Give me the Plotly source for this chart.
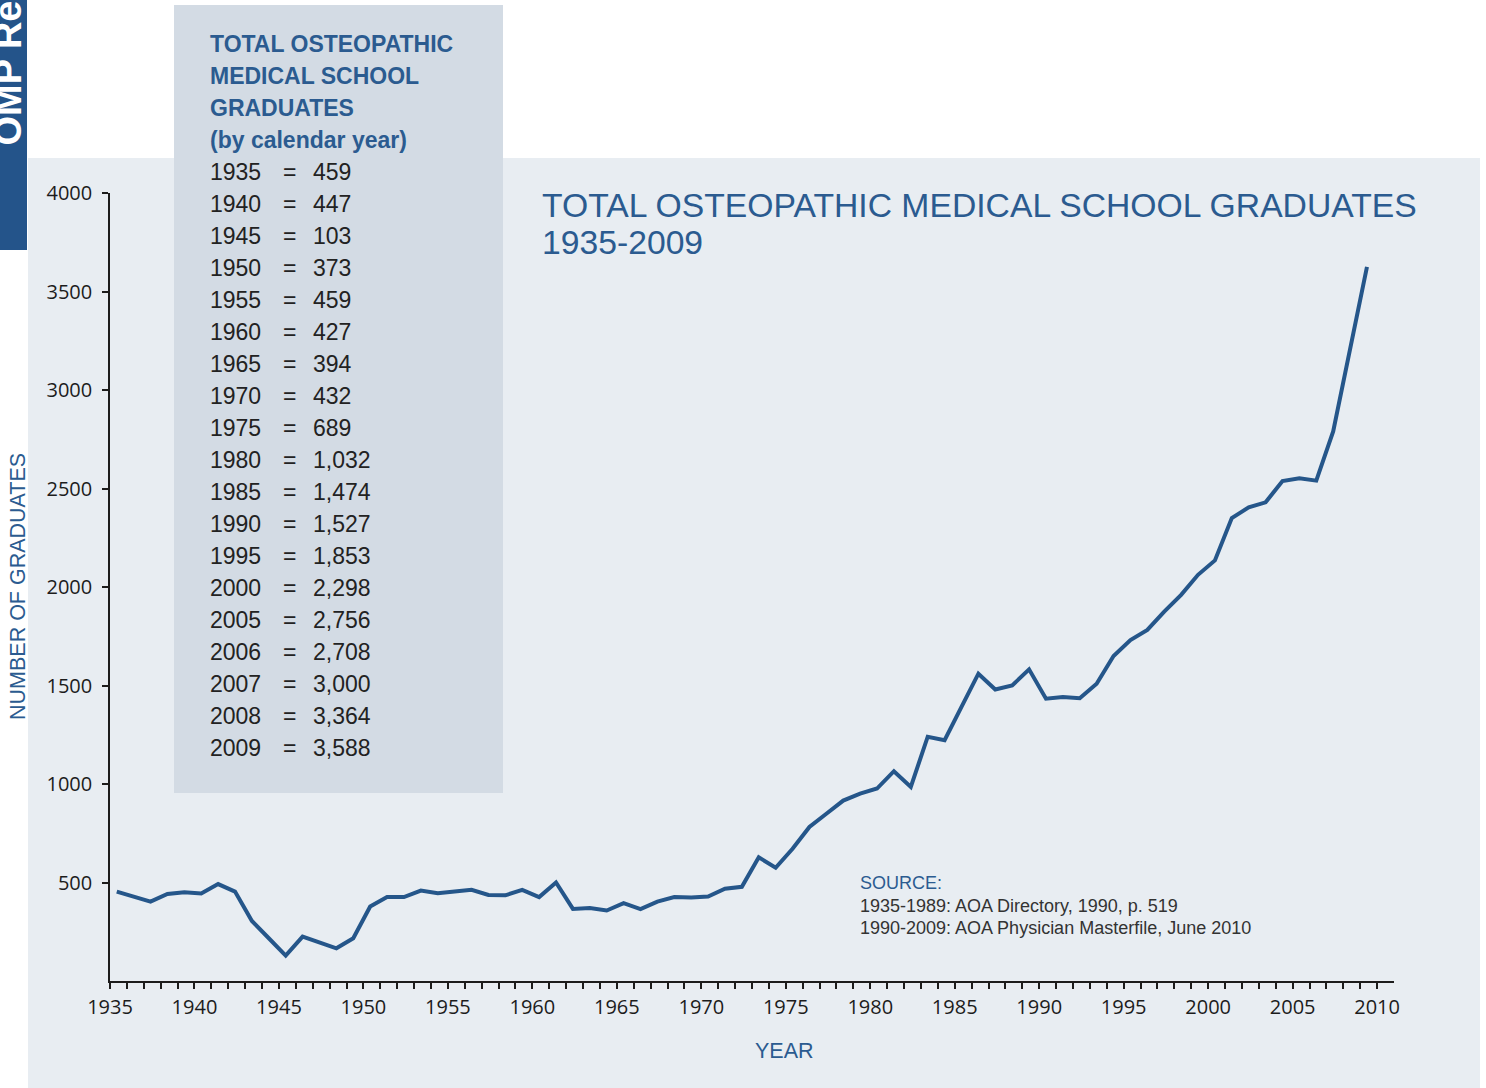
import plotly.graph_objects as go

# ---------------- data ----------------
years = list(range(1935, 2010))
graduates = [454, 429, 403, 442, 451, 444, 492, 454, 305, 217,
             129, 225, 195, 166, 217, 378, 426, 426, 459, 446,
             454, 463, 437, 435, 463, 426, 500, 366, 371, 358,
             395, 365, 403, 426, 424, 429, 468, 478, 628, 575,
             671, 782, 849, 916, 951, 977, 1065, 985, 1240, 1222,
             1392, 1560, 1480, 1500, 1582, 1433, 1442, 1435, 1509, 1650,
             1731, 1782, 1875, 1960, 2062, 2135, 2350, 2404, 2430, 2538,
             2552, 2540, 2790, 3200, 3625]

table_years = ["1935", "1940", "1945", "1950", "1955", "1960", "1965", "1970",
               "1975", "1980", "1985", "1990", "1995", "2000", "2005", "2006",
               "2007", "2008", "2009"]
table_values = ["459", "447", "103", "373", "459", "427", "394", "432", "689",
                "1,032", "1,474", "1,527", "1,853", "2,298", "2,756", "2,708",
                "3,000", "3,364", "3,588"]
table_header = ["TOTAL OSTEOPATHIC", "MEDICAL SCHOOL", "GRADUATES", "(by calendar year)"]

x_ticks = list(range(1935, 2011, 5))
y_ticks = [500, 1000, 1500, 2000, 2500, 3000, 3500, 4000]

title_lines = ["TOTAL OSTEOPATHIC MEDICAL SCHOOL GRADUATES", "1935-2009"]
source_lines = ["1935-1989: AOA Directory, 1990, p. 519",
                "1990-2009: AOA Physician Masterfile, June 2010"]

# ---------------- layout geometry ----------------
W, H = 1486, 1088
L, R_EDGE, T, B_EDGE = 110, 1394, 193, 981
PW, PH = R_EDGE - L, B_EDGE - T

def px(x):
    return (x - L) / PW

def py(y):
    return (B_EDGE - y) / PH

BLUE = "#2b5b90"
LINE = "#25568a"
DARK = "#1c1c1c"
PANEL = "#e8edf2"
BOX = "#d3dbe4"
TAB = "#24548a"

fig = go.Figure()
fig.add_trace(go.Scatter(
    x=[y + 0.4 for y in years], y=graduates, mode="lines",
    line=dict(color=LINE, width=4), hoverinfo="x+y", showlegend=False))

shapes = [
    dict(type="rect", xref="paper", yref="paper", layer="below",
         x0=px(28), x1=px(1480), y0=py(1100), y1=py(158),
         fillcolor=PANEL, line=dict(width=0)),
    dict(type="rect", xref="paper", yref="paper", layer="below",
         x0=px(174), x1=px(503), y0=py(793), y1=py(5),
         fillcolor=BOX, line=dict(width=0)),
    dict(type="rect", xref="paper", yref="paper", layer="below",
         x0=px(-10), x1=px(27), y0=py(250), y1=py(-10),
         fillcolor=TAB, line=dict(width=0)),
]

ann = []
def text(x, y, s, size, color, family="Liberation Sans", xanchor="left",
         yanchor="middle", angle=0, bold=False):
    ann.append(dict(x=px(x), y=py(y), xref="paper", yref="paper", text=f"<b>{s}</b>" if bold else s,
                    showarrow=False, xanchor=xanchor, yanchor=yanchor, textangle=angle,
                    font=dict(family=family, size=size, color=color)))

# left tab
text(8, 148, "OMP Report", 38, "white", family="Liberation Sans", xanchor="center",
     yanchor="bottom", angle=-90, bold=True)

# inset table
for i, h in enumerate(table_header):
    text(208, 44 + 32 * i, h, 23, BLUE, bold=True)
for i, (yr, v) in enumerate(zip(table_years, table_values)):
    yy = 172 + 32 * i
    text(208, yy, yr, 23, "#222222")
    text(289, yy, "=", 23, "#222222", xanchor="center")
    text(311, yy, v, 23, "#222222")

# title
text(540, 205, title_lines[0], 33.7, BLUE)
text(540, 242, title_lines[1], 33.7, BLUE)

# source
text(858, 883, "SOURCE:", 18, BLUE)
text(858, 906, source_lines[0], 18, "#333333")
text(858, 928, source_lines[1], 18, "#333333")

# axis titles
text(18, 587, "NUMBER OF GRADUATES", 21.5, BLUE, xanchor="center", angle=-90)
text(784, 1051, "YEAR", 21.5, BLUE, xanchor="center")

fig.update_layout(
    width=W, height=H,
    margin=dict(l=L, r=W - R_EDGE, t=T, b=H - B_EDGE, pad=0),
    paper_bgcolor="white", plot_bgcolor="rgba(0,0,0,0)",
    shapes=shapes, annotations=ann, showlegend=False,
    xaxis=dict(range=[1935, 2011], tickmode="array", tickvals=x_ticks,
               ticktext=[str(v) for v in x_ticks],
               ticks="outside", ticklen=6, tickwidth=1.5, tickcolor=DARK,
               showline=True, linecolor=DARK, linewidth=1.5,
               showgrid=False, zeroline=False, ticklabelstandoff=1,
               tickfont=dict(family="Open Sans", size=20, color=DARK),
               minor=dict(tickmode="array", tickvals=years, ticks="outside",
                          ticklen=6, tickwidth=1.5, tickcolor=DARK, showgrid=False)),
    yaxis=dict(range=[0, 4000], tickmode="array", tickvals=y_ticks,
               ticks="outside", ticklen=6, tickwidth=1.5, tickcolor=DARK,
               showline=True, linecolor=DARK, linewidth=1.5,
               showgrid=False, zeroline=False, ticklabelstandoff=6,
               tickfont=dict(family="Open Sans", size=20, color=DARK)),
)

fig.write_html("out.html", config={"displayModeBar": False},
               post_script="document.body.style.margin='0';")
